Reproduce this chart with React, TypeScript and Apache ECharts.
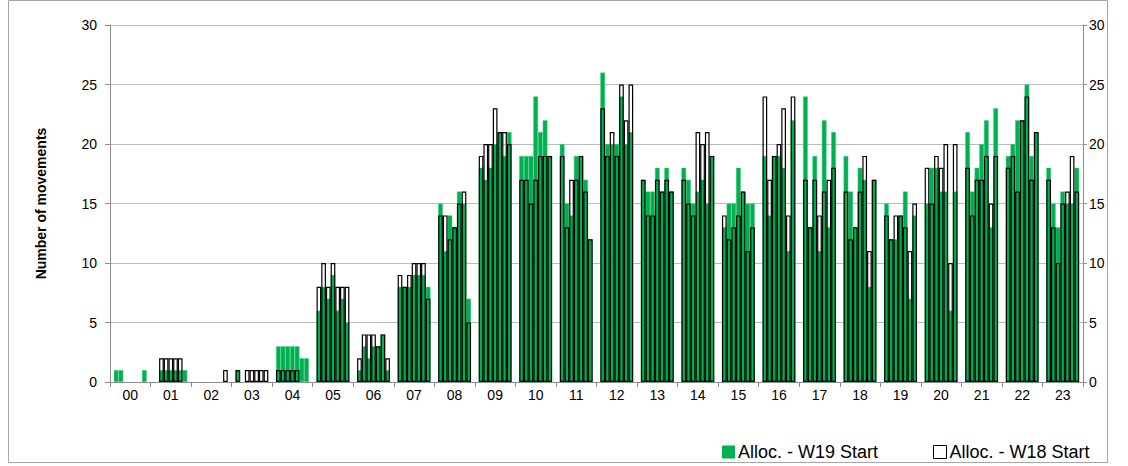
import React, { useEffect, useRef } from 'react';
import * as echarts from 'echarts';

// Hour-of-day categories
const hours = ['00', '01', '02', '03', '04', '05', '06', '07', '08', '09', '10', '11',
  '12', '13', '14', '15', '16', '17', '18', '19', '20', '21', '22', '23'];

// Seven bars per hour (one per day of the week), W19 (green, filled)
const w19ByHour: number[][] = [
  [1, 1, 0, 0, 0, 0, 1],
  [0, 1, 1, 1, 1, 1, 1],
  [0, 0, 0, 0, 0, 0, 0],
  [1, 0, 0, 0, 0, 0, 0],
  [3, 3, 3, 3, 3, 2, 2],
  [6, 8, 7, 9, 6, 7, 5],
  [1, 3, 2, 3, 3, 4, 1],
  [8, 8, 8, 9, 9, 9, 8],
  [15, 11, 14, 13, 16, 15, 7],
  [18, 17, 18, 20, 21, 19, 21],
  [19, 19, 19, 24, 21, 22, 19],
  [20, 15, 14, 19, 19, 17, 12],
  [26, 20, 20, 20, 24, 20, 21],
  [17, 16, 16, 18, 16, 18, 16],
  [18, 17, 15, 16, 17, 15, 19],
  [13, 15, 15, 18, 16, 15, 15],
  [19, 14, 19, 19, 18, 11, 22],
  [24, 13, 19, 11, 22, 13, 21],
  [19, 16, 13, 18, 17, 8, 17],
  [15, 12, 12, 14, 16, 7, 14],
  [15, 18, 18, 16, 16, 6, 16],
  [21, 16, 18, 20, 22, 13, 23],
  [19, 20, 22, 22, 25, 19, 21],
  [18, 15, 13, 16, 15, 15, 18],
];

// W18 (outlined)
const w18ByHour: number[][] = [
  [0, 0, 0, 0, 0, 0, 0],
  [0, 2, 2, 2, 2, 2, 0],
  [0, 0, 0, 0, 0, 0, 1],
  [1, 0, 1, 1, 1, 1, 1],
  [1, 1, 1, 1, 1, 0, 0],
  [8, 10, 8, 10, 8, 8, 8],
  [2, 4, 4, 4, 3, 4, 2],
  [9, 8, 9, 10, 10, 10, 7],
  [14, 14, 12, 13, 15, 16, 5],
  [19, 20, 20, 23, 21, 21, 20],
  [17, 17, 15, 17, 19, 19, 19],
  [19, 13, 17, 17, 19, 16, 12],
  [23, 19, 21, 19, 25, 22, 25],
  [17, 14, 14, 17, 16, 17, 16],
  [17, 15, 14, 21, 20, 21, 19],
  [14, 12, 13, 14, 16, 11, 13],
  [24, 17, 19, 20, 23, 14, 24],
  [17, 13, 17, 14, 16, 17, 18],
  [16, 12, 13, 16, 19, 11, 17],
  [14, 12, 14, 14, 13, 11, 15],
  [18, 15, 19, 18, 20, 10, 20],
  [18, 14, 17, 17, 19, 15, 19],
  [18, 19, 16, 22, 24, 17, 21],
  [17, 13, 10, 15, 16, 19, 16],
];

const seriesNames = ['Alloc. - W19 Start', 'Alloc. - W18 Start'];
const yMin = 0;
const yMax = 30;
const yStep = 5;
const yAxisTitle = 'Number of movements';

export default function App() {
  const ref = useRef<HTMLDivElement>(null);

  useEffect(() => {
    if (!ref.current) return;
    const chart = echarts.init(ref.current, null, { renderer: 'svg' });
    const font = '"Liberation Sans", Arial, sans-serif';
    const green = '#00B050';
    const axisGrey = '#8c8c8c';
    const days = w19ByHour[0].length;

    const series: any[] = [];
    for (let d = 0; d < days; d++) {
      series.push({
        type: 'bar',
        name: seriesNames[0],
        xAxisIndex: 0,
        yAxisIndex: 0,
        barGap: '0%',
        barCategoryGap: '19%',
        data: w19ByHour.map((r) => (r[d] ? r[d] : null)),
        itemStyle: { color: green, borderColor: '#4fcb87', borderWidth: 0.5 },
        emphasis: { disabled: true },
        z: 2,
      });
    }
    for (let d = 0; d < days; d++) {
      series.push({
        type: 'bar',
        name: seriesNames[1],
        xAxisIndex: 1,
        yAxisIndex: 0,
        barGap: '0%',
        barCategoryGap: '19%',
        data: w18ByHour.map((r) => (r[d] ? r[d] : null)),
        itemStyle: { color: 'rgba(0,0,0,0)', borderColor: '#000', borderWidth: 1.2 },
        emphasis: { disabled: true },
        z: 3,
      });
    }

    const legendCommon = {
      orient: 'horizontal',
      icon: 'rect',
      itemWidth: 13,
      itemHeight: 13,
      selectedMode: false,
      top: 443,
      padding: 0,
      textStyle: { fontFamily: font, fontSize: 18, color: '#000', padding: [0, 0, 0, -2] },
    };

    chart.setOption({
      animation: false,
      textStyle: { fontFamily: font },
      grid: { left: 110, right: 45, top: 25, bottom: 84, containLabel: false },
      legend: [
        {
          ...legendCommon,
          left: 722,
          data: [{ name: seriesNames[0], itemStyle: { color: green, borderWidth: 0 } }],
        },
        {
          ...legendCommon,
          left: 933,
          data: [{ name: seriesNames[1], itemStyle: { color: '#fff', borderColor: '#000', borderWidth: 1 } }],
        },
      ],
      xAxis: [
        {
          type: 'category',
          data: hours,
          boundaryGap: true,
          axisLine: { show: true, lineStyle: { color: axisGrey, width: 1 } },
          axisTick: { show: true, length: 5, alignWithLabel: false, interval: 0, lineStyle: { color: axisGrey } },
          axisLabel: { interval: 0, fontSize: 14, color: '#000', margin: 6, fontFamily: font },
          splitLine: { show: false },
        },
        {
          type: 'category',
          data: hours,
          show: false,
          boundaryGap: true,
        },
      ],
      yAxis: [
        {
          type: 'value',
          min: yMin,
          max: yMax,
          interval: yStep,
          position: 'left',
          name: yAxisTitle,
          nameLocation: 'middle',
          nameGap: 62,
          nameTextStyle: { fontFamily: font, fontSize: 14, fontWeight: 'bold', color: '#000' },
          axisLine: { show: true, lineStyle: { color: axisGrey } },
          axisTick: { show: true, length: 5, lineStyle: { color: axisGrey } },
          axisLabel: { fontSize: 14, color: '#000', margin: 13, fontFamily: font },
          splitLine: { show: true, lineStyle: { color: '#bcbcbc', width: 1 } },
        },
        {
          type: 'value',
          min: yMin,
          max: yMax,
          interval: yStep,
          position: 'right',
          axisLine: { show: true, lineStyle: { color: axisGrey } },
          axisTick: { show: true, length: 4, lineStyle: { color: axisGrey } },
          axisLabel: { fontSize: 14, color: '#000', margin: 6, fontFamily: font },
          splitLine: { show: false },
        },
      ],
      graphic: [
        {
          type: 'rect',
          shape: { x: 8.5, y: 0.5, width: 1099, height: 462 },
          style: { fill: 'none', stroke: '#a6a6a6', lineWidth: 1 },
          silent: true,
          z: -10,
        },
      ],
      series,
    });

    return () => chart.dispose();
  }, []);

  return (
    <div
      ref={ref}
      style={{ position: 'fixed', left: 0, top: 0, width: 1128, height: 466, background: '#fff' }}
    />
  );
}
